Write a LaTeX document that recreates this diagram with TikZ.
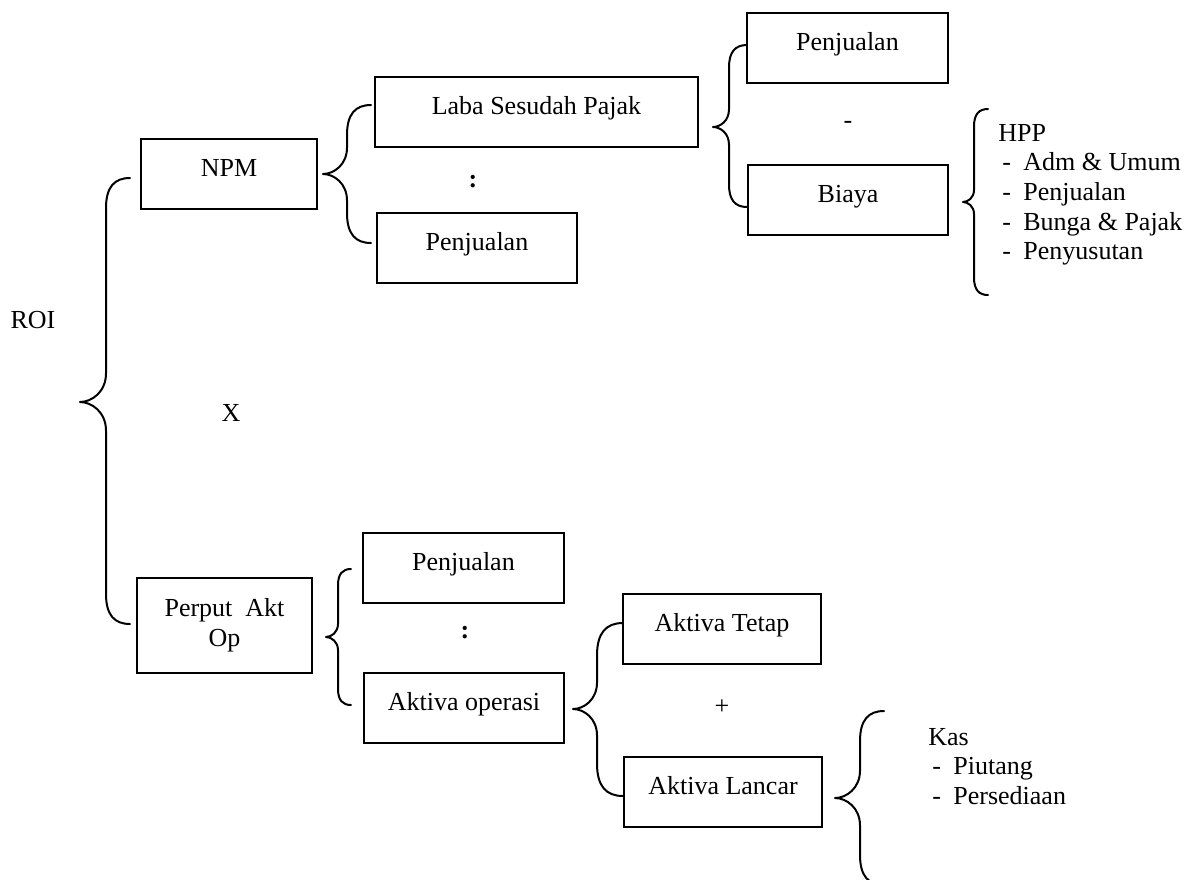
\documentclass[tikz,border=0pt]{standalone}
\usepackage{fontspec}
\setmainfont{Liberation Serif}
\newcommand\mybrace[6]{%
  \pgfmathsetmacro\bre{1.25*(#3-#2)}%
  \pgfmathsetmacro\brt{1.1*(#2-#1)}%
  \pgfmathsetmacro\bea{#2+0.35*(#3-#2)}%
  \pgfmathsetmacro\bta{#1+0.45*(#2-#1)}%
  \draw[bracestyle] (#3,#4) .. controls (\bea,#4) and (#2,{#4+0.3*\bre}) .. (#2,{#4+\bre})
    -- (#2,{#5-\brt})
    .. controls (#2,{#5-0.35*\brt}) and (\bta,#5) .. (#1,#5)
    .. controls (\bta,#5) and (#2,{#5+0.35*\brt}) .. (#2,{#5+\brt})
    -- (#2,{#6-\bre}) .. controls (#2,{#6-0.3*\bre}) and (\bea,#6) .. (#3,#6);}
\begin{document}
\begin{tikzpicture}[x=0.5pt,y=-0.5pt,
  every node/.style={font=\fontsize{13pt}{15pt}\selectfont, inner sep=0pt},
  box/.style 2 args={draw, line width=0.9pt, minimum width=#1*0.5pt, minimum height=#2*0.5pt, text height=9pt, text depth=6.8pt},
  box2/.style 2 args={draw, line width=0.9pt, minimum width=#1*0.5pt, minimum height=#2*0.5pt, align=center},
  bracestyle/.style={line width=1pt, line join=round, line cap=round},
  lst/.style={anchor=base west}]
\useasboundingbox (0,0) rectangle (1193,879);
\clip (0,0) rectangle (1193,879);
% boxes
\node[box={176}{70}] (npm) at (229,174) {NPM};
\node[box={323}{70}] (laba) at (536.5,112) {Laba Sesudah Pajak};
\node[box={200}{70}] (pjA) at (477,248) {Penjualan};
\node[box={201}{70}] (pjB) at (847.5,48) {Penjualan};
\node[box={200}{70}] (biaya) at (848,200) {Biaya};
\node[box2={175}{95}] (perput) at (224.5,625.5) {Perput\ \ Akt\\Op};
\node[box={201}{70}] (pjC) at (463.5,568) {Penjualan};
\node[box={200}{70}] (akop) at (464,708) {Aktiva operasi};
\node[box={198}{70}] (aktet) at (722,629) {Aktiva Tetap};
\node[box={198}{70}] (aklan) at (723,792) {Aktiva Lancar};
% operators and labels
\node (roi) at (33,320) {ROI};
\node (opx) at (231,413) {X};
\node (colA) at (473,182) {\textbf{:}};
\node (minus) at (848,125) {-};
\node (colB) at (465,633) {\textbf{:}};
\node (plus) at (722,707) {+};
% HPP list
\node[lst] (h0) at (998,141) {HPP};
\node[lst] (h1) at (998,170.7) {\hspace*{2pt}\makebox[10.5pt][l]{-}Adm \& Umum};
\node[lst] (h2) at (998,200.4) {\hspace*{2pt}\makebox[10.5pt][l]{-}Penjualan};
\node[lst] (h3) at (998,230.1) {\hspace*{2pt}\makebox[10.5pt][l]{-}Bunga \& Pajak};
\node[lst] (h4) at (998,259.8) {\hspace*{2pt}\makebox[10.5pt][l]{-}Penyusutan};
% Kas list
\node[lst] (k0) at (928,745) {Kas};
\node[lst] (k1) at (928,774.5) {\hspace*{2pt}\makebox[10.5pt][l]{-}Piutang};
\node[lst] (k2) at (928,804) {\hspace*{2pt}\makebox[10.5pt][l]{-}Persediaan};
% braces
\mybrace{80}{106}{130}{178}{402}{624}
\mybrace{323}{347}{371}{105}{174}{243}
\mybrace{713}{729}{747}{45}{127}{207}
\mybrace{963}{974}{988}{109}{202}{295}
\mybrace{326}{338}{351}{569}{637}{705}
\mybrace{573}{597}{623}{623}{709}{796}
\mybrace{835}{860}{884}{711}{798}{885}
\end{tikzpicture}
\end{document}
